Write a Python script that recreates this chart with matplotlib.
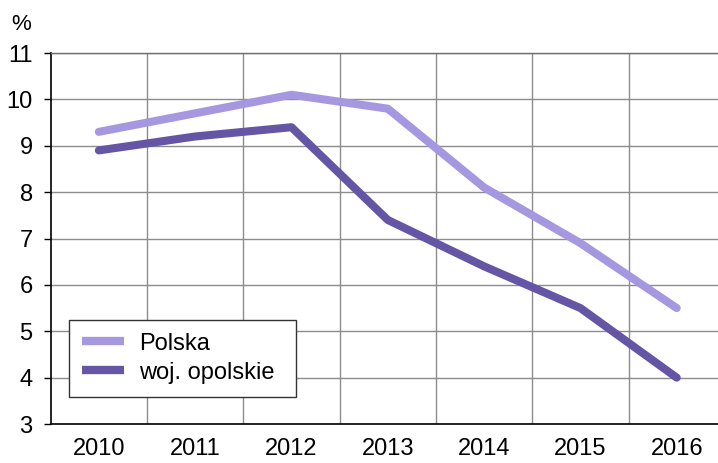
import matplotlib
matplotlib.use("Agg")
import matplotlib.pyplot as plt
import numpy as np

plt.rcParams['font.family'] = ['Liberation Sans', 'DejaVu Sans']

years = ['2010', '2011', '2012', '2013', '2014', '2015', '2016']
polska = [9.3, 9.7, 10.1, 9.8, 8.1, 6.9, 5.5]
opolskie = [8.9, 9.2, 9.4, 7.4, 6.4, 5.5, 4.0]
series_names = ['Polska', 'woj. opolskie']
y_ticks = [3, 4, 5, 6, 7, 8, 9, 10, 11]

FS = 17

fig = plt.figure(figsize=(7.18, 4.63), dpi=100)
ax = fig.add_axes([0.0706, 0.0842, 0.939, 0.8013])

x = np.arange(len(years))
ax.plot(x, polska, color='#a598e0', lw=5.8, solid_capstyle='round', solid_joinstyle='round', label=series_names[0], zorder=3)
ax.plot(x, opolskie, color='#6455a5', lw=5.8, solid_capstyle='round', solid_joinstyle='round', label=series_names[1], zorder=3)

ax.set_xlim(-0.5, len(years) - 0.5)
ax.set_ylim(3, 11)
ax.set_yticks(y_ticks)
ax.set_yticklabels([str(v) for v in y_ticks])
ax.set_xticks(x)
ax.set_xticklabels(years)
ax.set_xticks(np.arange(0.5, len(years) - 0.5, 1), minor=True)

ax.grid(True, axis='y', which='major', color='#8c8c8c', lw=1.0, zorder=0)
ax.grid(True, axis='x', which='minor', color='#8c8c8c', lw=1.0, zorder=0)
ax.grid(False, axis='x', which='major')

ax.spines['right'].set_visible(False)
ax.spines['top'].set_color('#6e6e6e')
ax.spines['top'].set_linewidth(1.0)
ax.spines['left'].set_color('black')
ax.spines['bottom'].set_color('black')
ax.spines['left'].set_linewidth(1.2)
ax.spines['bottom'].set_linewidth(1.2)

ax.tick_params(axis='y', which='major', length=5, width=1, color='black', pad=8, labelsize=FS)
ax.tick_params(axis='x', which='major', length=0, pad=10, labelsize=FS)
ax.tick_params(axis='x', which='minor', length=0)

fig.text(0.030, 0.948, '%', fontsize=16, ha='center', va='center')

leg = ax.legend(loc='lower left', bbox_to_anchor=(69/718, (463-396.7)/463, (295.7-69)/718, (396.7-318.3)/463),
                bbox_transform=fig.transFigure, mode='expand', fontsize=FS, frameon=True, fancybox=False,
                edgecolor='#333333', framealpha=1, handlelength=1.8, handletextpad=0.6, borderaxespad=0,
                borderpad=0.55, labelspacing=0.3)
leg.get_frame().set_linewidth(1.0)
for h in leg.get_lines():
    h.set_solid_capstyle('butt')
    h.set_linewidth(6.0)

fig.savefig('out.png', dpi=100)
